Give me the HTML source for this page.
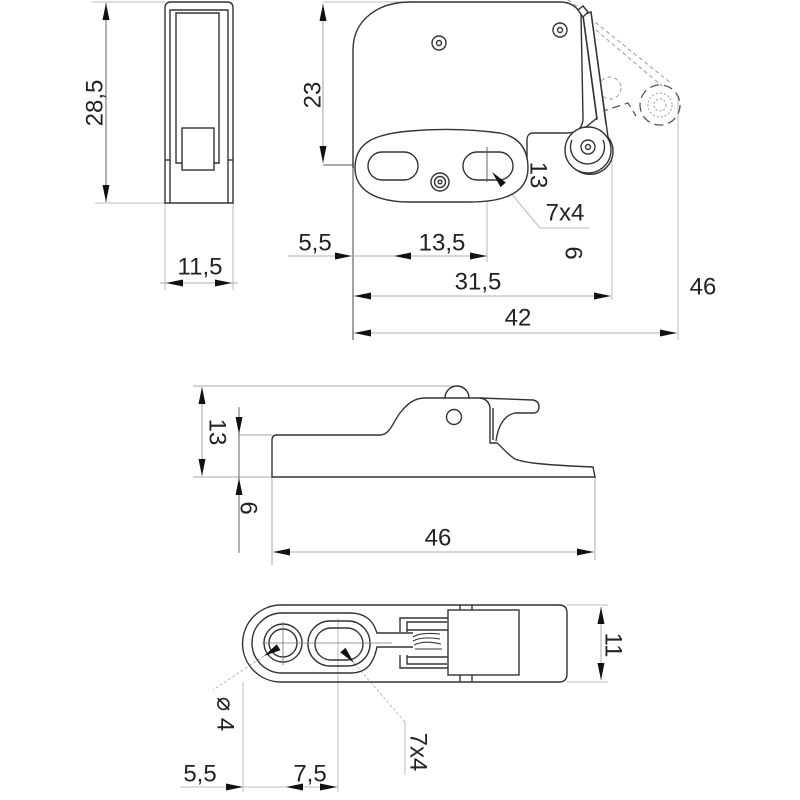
<!DOCTYPE html>
<html><head><meta charset="utf-8">
<style>
html,body{margin:0;padding:0;background:#fff;}
svg{display:block;}
text{font-family:"Liberation Sans","DejaVu Sans",sans-serif;font-size:24px;fill:#222;}
</style></head>
<body>
<svg width="800" height="800" viewBox="0 0 800 800" xmlns="http://www.w3.org/2000/svg">
<rect width="800" height="800" fill="#fff"/>

<!-- ============ TOP-LEFT VIEW ============ -->
<g fill="none" stroke="#bbb" stroke-width="1">
  <line x1="92" y1="2" x2="165" y2="2"/>
  <line x1="95" y1="203" x2="165" y2="203"/>
  <line x1="165" y1="203" x2="165" y2="290"/>
  <line x1="233" y1="203" x2="233" y2="290"/>
</g>
<line x1="106" y1="3" x2="106" y2="202" stroke="#666" stroke-width="1"/>
<polygon points="106,3 102.5,20 109.5,20" fill="#111"/>
<polygon points="106,202 102.5,185 109.5,185" fill="#111"/>
<text transform="translate(95,103) rotate(-90)" text-anchor="middle" dominant-baseline="central">28,5</text>

<g fill="none" stroke="#333" stroke-width="1.4">
  <path d="M165,203 L165,8 Q165,2 171,2 L227,2 Q233,2 233,8 L233,203 Z"/>
  <path d="M170,203 L170,10 L228,10 L228,203"/>
  <line x1="165" y1="160" x2="170" y2="160"/>
  <line x1="228" y1="160" x2="233" y2="160"/>
  <path d="M182,163 L176,163 L176,13 L219,13 L219,163 L214,163"/>
  <rect x="182" y="128" width="32" height="42"/>
</g>
<line x1="160" y1="283" x2="238" y2="283" stroke="#999" stroke-width="0.8"/>
<polygon points="166,283 183,279.5 183,286.5" fill="#111"/>
<polygon points="232,283 215,279.5 215,286.5" fill="#111"/>
<text x="200" y="267" text-anchor="middle" dominant-baseline="central">11,5</text>

<!-- ============ TOP-RIGHT VIEW ============ -->
<g fill="none" stroke="#bbb" stroke-width="1">
  <line x1="323" y1="2" x2="410" y2="2"/>
  <line x1="678" y1="98" x2="678" y2="340"/>
  <line x1="612" y1="160" x2="612" y2="300"/>
  <line x1="487" y1="147" x2="487" y2="262"/>
  <line x1="393" y1="150" x2="393" y2="182"/>
  <line x1="505" y1="186" x2="540" y2="228"/>
  <line x1="540" y1="228" x2="590" y2="228"/>
</g>
<line x1="353" y1="160" x2="353" y2="340" stroke="#444" stroke-width="1"/>
<line x1="323" y1="165" x2="420" y2="165" stroke="#555" stroke-width="0.9"/>
<line x1="463" y1="165" x2="517" y2="165" stroke="#555" stroke-width="0.9"/>

<line x1="323" y1="4" x2="323" y2="163" stroke="#888" stroke-width="0.8"/>
<polygon points="323,4 319.5,21 326.5,21" fill="#111"/>
<polygon points="323,163 319.5,146 326.5,146" fill="#111"/>
<text transform="translate(313,95) rotate(-90)" text-anchor="middle" dominant-baseline="central">23</text>

<!-- body -->
<g fill="#fff" stroke="#333" stroke-width="1.4">
  <path d="M353,168 L353,50 C353,20 378,2 410,2 L560,2 C570,2 577,7 581,14 L583,118 C583,128 577,133 567,133 L533,133 C529,133 527,136 527,140 L527,168"/>
  <path d="M355,168 C355,142 375,134 410,131 Q455,127 500,133 C520,137 528,150 528,168 C528,190 510,202 470,202 L410,202 C375,202 355,190 355,168 Z"/>
  <rect x="368" y="152" width="50" height="28" rx="14"/>
  <rect x="463" y="152" width="50" height="28" rx="14"/>
  <circle cx="440" cy="182" r="9"/>
  <circle cx="440" cy="182" r="5.5"/>
  <circle cx="440" cy="182" r="1.8"/>
  <circle cx="439" cy="43" r="7"/>
  <circle cx="439" cy="43" r="2.5"/>
  <circle cx="560" cy="30" r="7"/>
  <circle cx="560" cy="30" r="2.5"/>
</g>
<line x1="487" y1="147" x2="487" y2="182" stroke="#555" stroke-width="0.9"/>

<!-- phantom -->
<g fill="none" stroke="#aaa" stroke-width="1.2" stroke-dasharray="4,3">
  <line x1="568" y1="0" x2="582" y2="10"/>
  <line x1="590" y1="18" x2="672" y2="84"/>
  <line x1="596" y1="30" x2="662" y2="86"/>
  <circle cx="610" cy="88" r="11"/>
  <circle cx="660" cy="105" r="12" stroke-dasharray="2,2"/>
  <circle cx="660" cy="105" r="6" stroke-dasharray="2,2"/>
</g>
<circle cx="660" cy="105" r="20" fill="none" stroke="#555" stroke-width="1.3" stroke-dasharray="9,5"/>
<polyline points="600,112 628,103 636,116" fill="none" stroke="#555" stroke-width="1.3" stroke-dasharray="8,5"/>

<!-- arm + roller -->
<g fill="#fff" stroke="#333" stroke-width="1.4">
  <path d="M583,15 L597,118 L570,140 A23,23 0 1 0 608,137 L591,12 Z"/>
  <circle cx="588" cy="150" r="23"/>
  <path d="M572,140 A17,17 0 1 0 603,140" fill="none"/>
  <line x1="583" y1="16" x2="597" y2="120" fill="none"/>
  <line x1="591" y1="12" x2="606" y2="124" fill="none"/>
  <circle cx="588" cy="147" r="7"/>
  <circle cx="588" cy="147" r="2.5"/>
  <polygon points="578,10 583,6 588,12 583,17"/>
</g>

<!-- leader 7x4 -->
<polygon points="492,172 505.8,182.5 500.6,187.1" fill="#111"/>
<text x="565" y="213" text-anchor="middle" dominant-baseline="central">7x4</text>
<text transform="translate(538,175) rotate(90)" text-anchor="middle" dominant-baseline="central">13</text>
<text transform="translate(573,253) rotate(90)" text-anchor="middle" dominant-baseline="central">6</text>

<!-- dims -->
<line x1="288" y1="256" x2="487" y2="256" stroke="#999" stroke-width="0.8"/>
<polygon points="352,256 335,252.5 335,259.5" fill="#111"/>
<polygon points="394,256 411,252.5 411,259.5" fill="#111"/>
<polygon points="487,256 470,252.5 470,259.5" fill="#111"/>
<text x="315" y="243" text-anchor="middle" dominant-baseline="central">5,5</text>
<text x="442" y="243" text-anchor="middle" dominant-baseline="central">13,5</text>

<line x1="354" y1="296" x2="611" y2="296" stroke="#999" stroke-width="0.8"/>
<polygon points="354,296 371,292.5 371,299.5" fill="#111"/>
<polygon points="611,296 594,292.5 594,299.5" fill="#111"/>
<text x="478" y="282" text-anchor="middle" dominant-baseline="central">31,5</text>

<line x1="354" y1="333" x2="677" y2="333" stroke="#999" stroke-width="0.8"/>
<polygon points="354,333 371,329.5 371,336.5" fill="#111"/>
<polygon points="677,333 660,329.5 660,336.5" fill="#111"/>
<text x="518" y="318" text-anchor="middle" dominant-baseline="central">42</text>
<text x="703" y="287" text-anchor="middle" dominant-baseline="central">46</text>

<!-- ============ MIDDLE VIEW ============ -->
<g fill="none" stroke="#aaa" stroke-width="1">
  <line x1="193" y1="386" x2="457" y2="386"/>
  <line x1="193" y1="477" x2="272" y2="477"/>
  <line x1="239" y1="435" x2="272" y2="435"/>
  <line x1="272" y1="477" x2="272" y2="565"/>
  <line x1="595" y1="477" x2="595" y2="560"/>
</g>
<line x1="202" y1="387" x2="202" y2="476" stroke="#888" stroke-width="0.8"/>
<polygon points="202,387 198.5,404 205.5,404" fill="#111"/>
<polygon points="202,476 198.5,459 205.5,459" fill="#111"/>
<text transform="translate(217,432) rotate(90)" text-anchor="middle" dominant-baseline="central">13</text>

<line x1="239" y1="407" x2="239" y2="553" stroke="#555" stroke-width="0.9"/>
<polygon points="239,434 235.5,417 242.5,417" fill="#111"/>
<polygon points="239,478 235.5,495 242.5,495" fill="#111"/>
<text transform="translate(248,508) rotate(90)" text-anchor="middle" dominant-baseline="central">6</text>

<g fill="#fff" stroke="#333" stroke-width="1.4">
  <path d="M445,398 A12,12 0 0 1 469,398"/>
  <path d="M272,477 L272,440 Q272,435 277,435 L380,435 C390,435 393,422 400,413 C407,404 414,398 425,398 L480,398 Q488,399 490,407 L490,443 L497,443 C503,448 507,454 515,459 C525,463 545,465 593,467 L595,477 Z"/>
  <path d="M480,398 L533,400 Q539,401 539,407 Q539,413 533,413 L515,413 C505,415 498,425 496,441" fill="none"/>
  <line x1="493" y1="408" x2="493" y2="440"/>
  <circle cx="454" cy="417" r="7.5"/>
</g>

<line x1="273" y1="552" x2="594" y2="552" stroke="#999" stroke-width="0.8"/>
<polygon points="273,552 290,548.5 290,555.5" fill="#111"/>
<polygon points="594,552 577,548.5 577,555.5" fill="#111"/>
<text x="438" y="538" text-anchor="middle" dominant-baseline="central">46</text>

<!-- ============ BOTTOM VIEW ============ -->
<g fill="none" stroke="#bbb" stroke-width="1">
  <line x1="243" y1="682" x2="243" y2="792"/>
  <line x1="338" y1="618" x2="338" y2="792"/>
  <line x1="567" y1="605" x2="608" y2="605"/>
  <line x1="567" y1="682" x2="608" y2="682"/>
  <line x1="264" y1="656" x2="213" y2="690" stroke-dasharray="3,2"/>
  <line x1="354" y1="663" x2="405" y2="722" stroke-dasharray="3,2"/>
  <line x1="405" y1="722" x2="405" y2="775"/>
</g>
<g fill="none" stroke="#333" stroke-width="1.4">
  <path d="M281,605 L559,605 Q567,605 567,613 L567,674 Q567,682 559,682 L281,682 A38.5,38.5 0 0 1 281,605 Z"/>
  <path d="M282,613 L350,613 C365,613 373,620 377,633 L413,633"/>
  <path d="M282,673 L350,673 C365,673 373,666 377,647 L413,647"/>
  <path d="M282,613 A30,30 0 0 0 282,673"/>
  <circle cx="283" cy="643" r="19"/>
  <circle cx="283" cy="643" r="14"/>
  <rect x="308" y="621" width="62" height="45" rx="22"/>
  <rect x="315" y="628" width="48" height="32" rx="16"/>
  <rect x="448" y="610" width="71" height="65" fill="#fff"/>
  <line x1="460" y1="605" x2="460" y2="610"/>
  <line x1="472" y1="605" x2="472" y2="610"/>
  <line x1="460" y1="675" x2="460" y2="682"/>
  <line x1="472" y1="675" x2="472" y2="682"/>
  <path d="M448,618 L400,618 L400,632 M407,632 L407,622 L447,622"/>
  <path d="M448,668 L400,668 L400,655 M407,655 L407,664 L447,664"/>
  <line x1="407" y1="630" x2="448" y2="630"/>
  <line x1="407" y1="657" x2="448" y2="657"/>
  <path d="M413,637 Q420,632 440,634 M413,641 Q422,636 440,639 M414,645 Q424,640 441,644 M415,649 L442,649" stroke-width="1.1"/>
</g>
<line x1="262" y1="643" x2="392" y2="643" stroke="#777" stroke-width="0.8"/>
<line x1="283" y1="622" x2="283" y2="665" stroke="#777" stroke-width="0.8"/>
<polygon points="264,656 276.8,644.3 280.4,650.3" fill="#111"/>
<polygon points="354,663 345.5,647.8 340.3,652.4" fill="#111"/>

<line x1="601" y1="607" x2="601" y2="680" stroke="#999" stroke-width="0.8"/>
<polygon points="601,607 597.5,624 604.5,624" fill="#111"/>
<polygon points="601,680 597.5,663 604.5,663" fill="#111"/>
<text transform="translate(613,645) rotate(90)" text-anchor="middle" dominant-baseline="central">11</text>

<text transform="translate(225,714) rotate(90)" text-anchor="middle" dominant-baseline="central">⌀ 4</text>
<text transform="translate(418,752) rotate(90)" text-anchor="middle" dominant-baseline="central">7x4</text>

<line x1="180" y1="787" x2="338" y2="787" stroke="#aaa" stroke-width="0.8"/>
<polygon points="243,787 226,783.5 226,790.5" fill="#111"/>
<polygon points="286,787 303,783.5 303,790.5" fill="#111"/>
<polygon points="337,787 320,783.5 320,790.5" fill="#111"/>
<text x="200" y="774" text-anchor="middle" dominant-baseline="central">5,5</text>
<text x="310" y="774" text-anchor="middle" dominant-baseline="central">7,5</text>
</svg>
</body></html>
